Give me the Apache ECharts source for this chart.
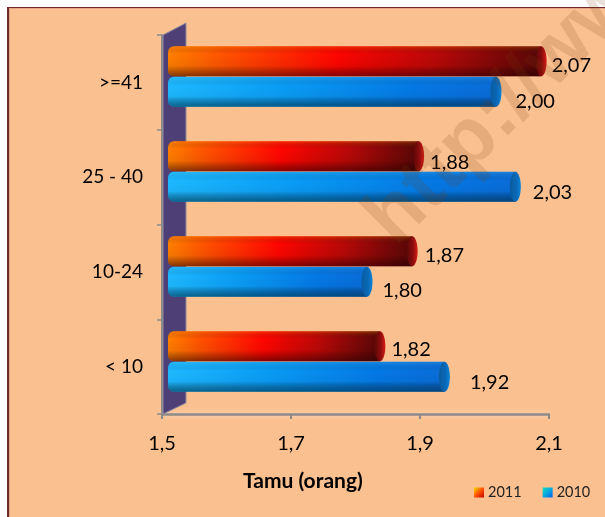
<!DOCTYPE html>
<html><head><meta charset="utf-8">
<style>
html,body{margin:0;padding:0;background:#fff;overflow:hidden}
#frame{position:absolute;left:7px;top:7px;width:600px;height:512px;background:#FBC08F;border-left:2.5px solid #6b2a2c;border-top:1.5px solid #6b2a2c;box-shadow:inset 1px 1px 0 #e8a582}
#chart{position:absolute;left:0;top:0;width:605px;height:517px}
</style>
<script src="https://cdn.jsdelivr.net/npm/echarts@6/dist/echarts.min.js"></script>
</head><body><div id="frame"></div><div id="chart"></div>
<script>
const categories = ['< 10', '10-24', '25 - 40', '>=41'];
const values2011 = [1.82, 1.87, 1.88, 2.07];
const values2010 = [1.92, 1.80, 2.03, 2.00];
const tickValues = [1.5, 1.7, 1.9, 2.1];

// label nudges relative to the bar end / bar centre
const labelShift2011 = [[6, 3], [7, 4], [6, 6], [5, 4]];
const labelShift2010 = [[20, 6], [10, 9], [12, 6], [14, 10]];

const font = 'Lato, "Open Sans", sans-serif';
const comma = v => v.toFixed(2).replace('.', ',');
const grad = (x, y, x2, y2, stops) => ({type: 'linear', x, y, x2, y2,
  colorStops: stops.map(s => ({offset: s[0], color: s[1]}))});

const themes = {
  '2011': {
    side: -1,
    shift: labelShift2011,
    body: [[0, '#ff7f00'], [0.15, '#ff5200'], [0.45, '#ff0500'], [0.72, '#b80808'], [1, '#560707']],
    cap: grad(0, 0, 1, 0, [[0, '#5c0808'], [0.55, '#8a0c0c'], [1, '#d61c16']]),
    shade: [[0, 'rgba(255,140,0,0.28)'], [0.25, 'rgba(0,0,0,0)'], [0.65, 'rgba(0,0,0,0.05)'], [1, 'rgba(40,0,0,0.55)']],
    legend: grad(0, 0, 1, 1, [[0, '#ffe000'], [0.5, '#ff5000'], [1, '#c00000']])
  },
  '2010': {
    side: 1,
    shift: labelShift2010,
    body: [[0, '#1eb8ff'], [0.35, '#0a9cf4'], [0.75, '#0478e4'], [1, '#0a6cd8']],
    cap: grad(0, 0, 1, 0, [[0, '#0a5c9c'], [0.6, '#0a68b8'], [1, '#0c84d8']]),
    shade: [[0, 'rgba(80,210,255,0.22)'], [0.3, 'rgba(0,0,0,0)'], [0.65, 'rgba(0,0,0,0.03)'], [1, 'rgba(0,50,70,0.62)']],
    legend: grad(0, 0, 1, 1, [[0, '#12dcc0'], [0.5, '#08a8e0'], [1, '#0060f0']])
  }
};

function cylinder(name) {
  const t = themes[name];
  return function (params, api) {
    const v = api.value(0), c = api.value(1);
    const end = api.coord([v, c]);
    const start = api.coord([1.5, c]);
    const h = api.size([0, 1])[1] * 30 / 95;
    const yc = end[1] + t.side * (h / 2 + 0.3);
    const top = yc - h / 2;
    const x0 = start[0] - 11, capRx = 5.5, x1 = end[0];
    const shift = t.shift[params.dataIndex];
    const body = {x: x0, y: top, width: x1 - capRx - x0, height: h, r: [6, 0, 0, 6]};
    return {type: 'group', children: [
      {type: 'rect', shape: body, style: {fill: grad(0, 0, 1, 0, t.body)}},
      {type: 'rect', shape: body, style: {fill: grad(0, 0, 0, 1, t.shade)}},
      {type: 'ellipse', shape: {cx: x1 - capRx, cy: yc, rx: capRx, ry: h / 2},
        style: {fill: t.cap}},
      {type: 'text', style: {x: x1 + shift[0], y: yc + shift[1], text: comma(v),
        fill: '#000', font: '20px ' + font, align: 'left', verticalAlign: 'middle'}}
    ]};
  };
}

const makeSeries = (name, values, z) => ({
  name, type: 'custom', xAxisIndex: 1, yAxisIndex: 1, z,
  itemStyle: {color: themes[name].legend},
  encode: {x: 0, y: 1},
  clip: false,
  renderItem: cylinder(name),
  data: values.map((v, i) => [v, i])
});

const axisGray = '#8d8a88';
const chart = echarts.init(document.getElementById('chart'), null, {renderer: 'canvas'});
chart.setOption({
  animation: false,
  backgroundColor: 'transparent',
  title: {text: 'Tamu (orang)', left: 238, top: 466,
    textStyle: {fontFamily: font, fontSize: 21, fontWeight: 'bold', color: '#000'}},
  legend: {
    data: ['2011', '2010'], left: 469, top: 480, itemWidth: 10, itemHeight: 10, itemGap: 21,
    textStyle: {fontFamily: font, fontSize: 14.5, color: '#222', padding: [0, 0, 0, -1]},
    icon: 'rect', selectedMode: false
  },
  grid: [
    {left: 162, width: 387, top: 35, height: 379},
    {left: 179, width: 387, top: 29, height: 380}
  ],
  xAxis: [
    {type: 'value', gridIndex: 0, min: 1.5, max: 2.1,
      splitLine: {show: false},
      axisLine: {show: true, lineStyle: {color: axisGray, width: 2.5, shadowColor: 'rgba(255,255,255,0.5)', shadowBlur: 5}},
      axisTick: {show: true, length: 5, lineStyle: {color: axisGray, width: 2}, customValues: tickValues},
      axisLabel: {customValues: tickValues, margin: 20, color: '#000', fontFamily: font, fontSize: 20,
        formatter: v => v.toFixed(1).replace('.', ',')}},
    {type: 'value', gridIndex: 1, min: 1.5, max: 2.1, show: false}
  ],
  yAxis: [
    {type: 'category', gridIndex: 0, data: categories,
      axisLine: {show: true, lineStyle: {color: axisGray, width: 2}},
      axisTick: {show: true, length: 5, lineStyle: {color: axisGray, width: 1.5}},
      axisLabel: {margin: 19, color: '#000', fontFamily: font, fontSize: 19, padding: [2, 0, 0, 0]}},
    {type: 'category', gridIndex: 1, data: categories, show: false}
  ],
  graphic: [
    {type: 'polygon', z: 1, silent: true,
      shape: {points: [[163, 35], [186, 23], [186, 403], [163, 414]]},
      style: {fill: '#4e4077', stroke: '#8f8b9c', lineWidth: 1}},
    {type: 'text', z: 100, silent: true, x: 380, y: 232, rotation: Math.PI / 4, originX: 0, originY: 0,
      style: {text: 'http://www', fill: 'rgba(125,60,10,0.16)', font: 'bold 80px "Liberation Sans", sans-serif',
        align: 'left', verticalAlign: 'middle'}}
  ],
  series: [makeSeries('2010', values2010, 3), makeSeries('2011', values2011, 4)]
});
</script></body></html>
